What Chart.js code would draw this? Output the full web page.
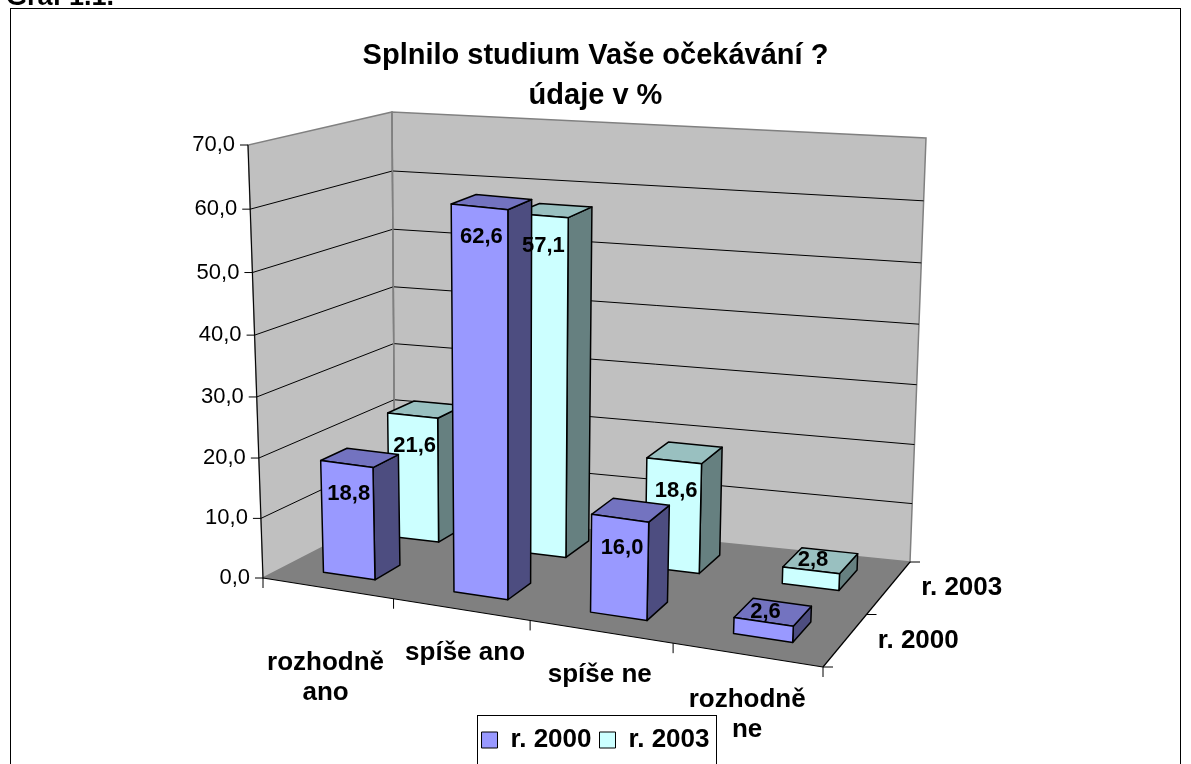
<!DOCTYPE html>
<html>
<head>
<meta charset="utf-8">
<title>Graf 1.1.</title>
<script src="https://cdn.jsdelivr.net/npm/chart.js@4.4.1/dist/chart.umd.min.js"></script>
<style>
  body { margin: 0; background: #fff; }
  canvas { display: block; }
</style>
</head>
<body>
<canvas id="graf" width="1191" height="764"></canvas>
<script>
// data
var categories = [['rozhodně', 'ano'], 'spíše ano', 'spíše ne', ['rozhodně', 'ne']];
var seriesNames = ['r. 2000', 'r. 2003'];
var values2000 = [18.8, 62.6, 16.0, 2.6];
var values2003 = [21.6, 57.1, 18.6, 2.8];
var yTickValues = [0, 10, 20, 30, 40, 50, 60, 70];

var FONT = 'Arial, "Liberation Sans", sans-serif';

// screen corners of the 3D plot box (front/back, bottom/top, left/right)
var box = {
  fbl: [263, 578], fbr: [823, 667], ftl: [248, 145], ftr: [843, 206],
  bbl: [395, 510], bbr: [910, 562], btl: [392, 112], btr: [926, 138]
};
// a bit of perspective squeeze along the category and value directions
var squeezeU = -0.088, squeezeV = -0.042;
// depth slot of each series row (0 = front edge, 1 = back wall)
var rowDepth = [[0.17, 0.37], [0.68, 0.88]];
var faceColors = [
  { front: '#9999FF', top: '#7373C0', side: '#4D4D80' },
  { front: '#CCFFFF', top: '#99C0C0', side: '#668080' }
];
// nudges for the category texts (x, y of first line from the tick point)
var catLabelShift = [[-2, 75], [4, 43], [-1, 43], [0, 45]];

function lerp(a, b, t) {
  return [a[0] + (b[0] - a[0]) * t, a[1] + (b[1] - a[1]) * t];
}

function squeeze(t, c) {
  return t * (1 + c) / (1 + c * t);
}

// u: across categories, v: up the value axis, z: into depth, all 0..1
function proj(u, v, z) {
  u = squeeze(u, squeezeU);
  v = squeeze(v, squeezeV);
  var f = lerp(lerp(box.fbl, box.fbr, u), lerp(box.ftl, box.ftr, u), v);
  var b = lerp(lerp(box.bbl, box.bbr, u), lerp(box.btl, box.btr, u), v);
  return lerp(f, b, z);
}

function poly(ctx, pts, fill, stroke, lw) {
  ctx.beginPath();
  ctx.moveTo(pts[0][0], pts[0][1]);
  for (var i = 1; i < pts.length; i++) ctx.lineTo(pts[i][0], pts[i][1]);
  ctx.closePath();
  if (fill) { ctx.fillStyle = fill; ctx.fill(); }
  if (stroke) { ctx.strokeStyle = stroke; ctx.lineWidth = lw || 1; ctx.stroke(); }
}

function line(ctx, a, b, color, lw) {
  ctx.beginPath();
  ctx.moveTo(a[0], a[1]);
  ctx.lineTo(b[0], b[1]);
  ctx.strokeStyle = color;
  ctx.lineWidth = lw || 1;
  ctx.stroke();
}

function fmt(v) {
  return v.toFixed(1).replace('.', ',');
}

var scene3d = {
  id: 'scene3d',
  beforeDraw: function (chart) {
    var ctx = chart.ctx;
    var area = chart.chartArea;
    var yScale = chart.scales.y;
    ctx.save();
    ctx.fillStyle = '#fff';
    ctx.fillRect(0, 0, chart.width, chart.height);

    ctx.fillStyle = '#000';
    ctx.font = 'bold 27px ' + FONT;
    ctx.textAlign = 'left';
    ctx.textBaseline = 'alphabetic';
    ctx.fillText('Graf 1.1.', 6, 5);

    ctx.strokeStyle = '#000';
    ctx.lineWidth = 1;
    ctx.strokeRect(10.5, 8.5, 1170, 800);

    // walls and floor
    poly(ctx, [proj(0, 0, 0), proj(0, 1, 0), proj(0, 1, 1), proj(0, 0, 1)], '#C0C0C0', '#808080', 1.5);
    poly(ctx, [proj(0, 0, 1), proj(0, 1, 1), proj(1, 1, 1), proj(1, 0, 1)], '#C0C0C0', '#808080', 1.5);
    poly(ctx, [proj(0, 0, 0), proj(1, 0, 0), proj(1, 0, 1), proj(0, 0, 1)], '#808080');

    // gridlines + value axis
    ctx.font = '22px ' + FONT;
    ctx.textAlign = 'right';
    ctx.textBaseline = 'middle';
    yTickValues.forEach(function (t) {
      var v = (area.bottom - yScale.getPixelForValue(t)) / area.height;
      if (v > 0.001 && v < 0.999) {
        line(ctx, proj(0, v, 0), proj(0, v, 1), '#000', 1);
        line(ctx, proj(0, v, 1), proj(1, v, 1), '#000', 1);
      }
      var p = proj(0, v, 0);
      line(ctx, [p[0] - 8, p[1]], p, '#000', 1);
      ctx.fillStyle = '#000';
      ctx.fillText(fmt(t), p[0] - 13, p[1]);
    });
    line(ctx, proj(0, 0, 0), proj(0, 1, 0), '#000', 1);
    line(ctx, proj(0, 0, 1), proj(0, 1, 1), '#808080', 1.5);

    // floor front and right edges, ticks
    line(ctx, proj(0, 0, 0), proj(1, 0, 0), '#000', 1.2);
    line(ctx, proj(1, 0, 0), proj(1, 0, 1), '#000', 1.2);
    for (var k = 0; k <= categories.length; k++) {
      var q = proj(k / categories.length, 0, 0);
      line(ctx, q, [q[0], q[1] + 10], '#000', 1);
    }
    for (var s = 0; s <= seriesNames.length; s++) {
      var r = proj(1, 0, s / seriesNames.length);
      line(ctx, r, [r[0] + 10, r[1]], '#000', 1);
    }

    // category labels
    ctx.font = 'bold 26px ' + FONT;
    ctx.textAlign = 'center';
    categories.forEach(function (c, i) {
      var lines = Array.isArray(c) ? c : [c];
      var p = proj((i + 0.5) / categories.length, 0, 0);
      lines.forEach(function (txt, j) {
        ctx.fillText(txt, p[0] + catLabelShift[i][0], p[1] + catLabelShift[i][1] + j * 30);
      });
    });

    // series labels on the depth axis
    ctx.textAlign = 'left';
    seriesNames.forEach(function (name, s) {
      var p = proj(1, 0, (s + 0.5) / seriesNames.length);
      ctx.fillText(name, p[0] + 33, p[1]);
    });
    ctx.restore();
  },
  beforeDatasetsDraw: function (chart) {
    var ctx = chart.ctx;
    var area = chart.chartArea;
    var labels = [];
    ctx.save();
    ctx.lineJoin = 'round';
    for (var d = chart.data.datasets.length - 1; d >= 0; d--) {
      var meta = chart.getDatasetMeta(d);
      var z1 = rowDepth[d][0], z2 = rowDepth[d][1];
      var col = faceColors[d];
      meta.data.forEach(function (el, i) {
        var u1 = (el.x - el.width / 2 - area.left) / area.width;
        var u2 = (el.x + el.width / 2 - area.left) / area.width;
        var v1 = (area.bottom - el.base) / area.height;
        var v2 = (area.bottom - el.y) / area.height;
        poly(ctx, [proj(u2, v1, z1), proj(u2, v1, z2), proj(u2, v2, z2), proj(u2, v2, z1)], col.side, '#000', 1.5);
        poly(ctx, [proj(u1, v2, z1), proj(u2, v2, z1), proj(u2, v2, z2), proj(u1, v2, z2)], col.top, '#000', 1.5);
        poly(ctx, [proj(u1, v1, z1), proj(u2, v1, z1), proj(u2, v2, z1), proj(u1, v2, z1)], col.front, '#000', 1.5);
        var top = proj((u1 + u2) / 2, v2, z1);
        var bot = proj((u1 + u2) / 2, v1, z1);
        var ly = (bot[1] - top[1] > 50) ? top[1] + 30 : top[1] - 10;
        labels.push([fmt(chart.data.datasets[d].data[i]), top[0] + 2, ly]);
      });
    }
    ctx.fillStyle = '#000';
    ctx.font = 'bold 22px ' + FONT;
    ctx.textAlign = 'center';
    ctx.textBaseline = 'middle';
    labels.forEach(function (l) { ctx.fillText(l[0], l[1], l[2]); });
    ctx.restore();
    return false;
  },
  afterDraw: function (chart) {
    // frame round the legend
    var lg = chart.legend;
    if (!lg || !lg.legendHitBoxes.length) return;
    var hb = lg.legendHitBoxes;
    var x1 = hb[0].left - 5;
    var last = hb[hb.length - 1];
    var x2 = last.left + last.width + 6;
    var cy = hb[0].top + hb[0].height / 2;
    var ctx = chart.ctx;
    ctx.save();
    ctx.strokeStyle = '#000';
    ctx.lineWidth = 1;
    ctx.strokeRect(Math.round(x1) + 0.5, Math.round(cy - 25) + 0.5, Math.round(x2 - x1), 49);
    ctx.restore();
  }
};

new Chart(document.getElementById('graf'), {
  type: 'bar',
  data: {
    labels: categories,
    datasets: [
      { label: seriesNames[0], data: values2000, backgroundColor: faceColors[0].front, borderColor: '#000', borderWidth: 1 },
      { label: seriesNames[1], data: values2003, backgroundColor: faceColors[1].front, borderColor: '#000', borderWidth: 1 }
    ]
  },
  options: {
    responsive: false,
    animation: false,
    layout: { padding: { top: 21, bottom: 1 } },
    datasets: { bar: { grouped: false, categoryPercentage: 1, barPercentage: 0.4 } },
    scales: {
      x: { ticks: { display: false }, grid: { display: false }, border: { display: false } },
      y: {
        min: yTickValues[0], max: yTickValues[yTickValues.length - 1],
        ticks: { display: false, stepSize: 10 }, grid: { display: false }, border: { display: false }
      }
    },
    plugins: {
      title: {
        display: true,
        text: ['Splnilo studium Vaše očekávání ?', 'údaje v %'],
        color: '#000',
        font: { family: FONT, size: 29, weight: 'bold', lineHeight: 1.38 },
        padding: { top: 15, bottom: 10 }
      },
      legend: {
        position: 'bottom',
        labels: { color: '#000', font: { family: FONT, size: 26, weight: 'bold' }, boxWidth: 16, boxHeight: 16, padding: 8 }
      },
      tooltip: { enabled: false }
    }
  },
  plugins: [scene3d]
});
</script>
</body>
</html>
